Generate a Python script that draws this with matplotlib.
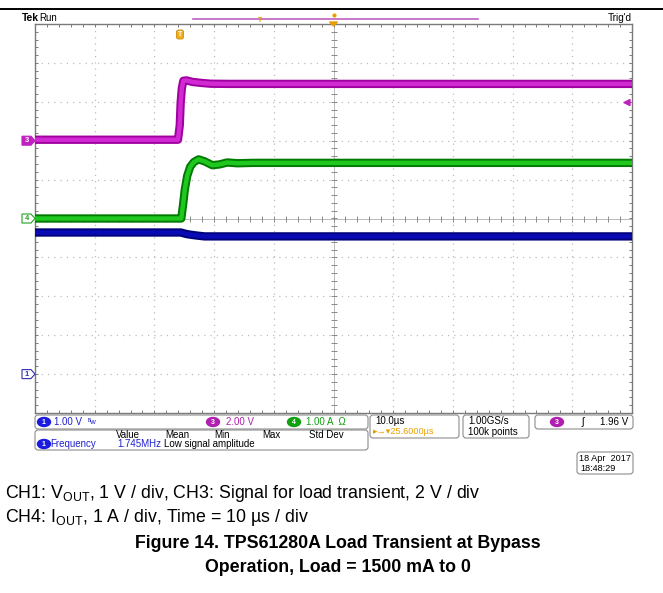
import matplotlib
matplotlib.use('Agg')
import matplotlib.pyplot as plt
import numpy as np
from matplotlib.patches import FancyBboxPatch, Ellipse, Polygon
from matplotlib.ticker import FixedLocator

plt.rcParams['font.family'] = ['Liberation Sans', 'DejaVu Sans']
plt.rcParams['mathtext.fontset'] = 'custom'
plt.rcParams['mathtext.rm'] = 'Liberation Sans'
plt.rcParams['mathtext.it'] = 'Liberation Sans:italic'
plt.rcParams['mathtext.bf'] = 'Liberation Sans:bold'

# ---------------- data ----------------
time_per_div = 10.0          # µs / div
center_after_trigger = 25.6  # µs (horizontal position)
ch1_scale, ch3_scale, ch4_scale = 1.0, 2.0, 1.0        # V/div, V/div, A/div
ch1_offset, ch3_offset, ch4_offset = -4.0, 2.0, 0.0    # ground position, div
ch3_trig_level = 1.96

# CH3: load-transient control signal (V)
ch3_time = [-24.4, -0.45, -0.15, 0.0, 0.2, 0.45, 1.0, 2.0, 3.5, 5.0, 8.0, 12.0, 75.6]
ch3_volt = [0.05, 0.05, 0.8, 1.96, 2.7, 3.08, 3.1, 3.02, 2.97, 2.93, 2.92, 2.92, 2.92]

# CH4: output current (A)
ch4_time = [-24.4, 0.1, 0.4, 0.7, 1.1, 1.6, 2.2, 3.0, 4.0, 5.3, 6.5, 7.8, 9.5, 12.0, 75.6]
ch4_amp = [0.0, 0.0, 0.35, 0.75, 1.1, 1.33, 1.45, 1.52, 1.47, 1.37, 1.39, 1.44, 1.42, 1.43, 1.43]

# CH1: output voltage (V)
ch1_time = [-24.4, 0.0, 0.5, 1.0, 1.8, 2.8, 4.0, 5.0, 75.6]
ch1_volt = [3.64, 3.64, 3.62, 3.60, 3.58, 3.56, 3.54, 3.54, 3.54]

# ---------------- figure ----------------
W, H = 663, 593
fig = plt.figure(figsize=(W / 100, H / 100), dpi=100)
fig.patch.set_facecolor('white')

gl, gt, gr, gb = 35, 24, 632, 413
ax = fig.add_axes([gl / W, 1 - gb / H, (gr - gl) / W, (gb - gt) / H])
t_left = center_after_trigger - 5 * time_per_div
t_right = center_after_trigger + 5 * time_per_div
ax.set_xlim(t_left, t_right)
ax.set_ylim(-5, 5)

# graticule
div_x = np.arange(t_left, t_right + 0.01, time_per_div)
div_y = np.arange(-5, 5.01, 1)
dot_col = '#bcbcbc'
for xv in div_x[1:-1]:
    if abs(xv - center_after_trigger) > 1e-6:
        ax.axvline(xv, color=dot_col, lw=0.9, ls=(0, (1, 4)), zorder=1)
for yv in div_y[1:-1]:
    if abs(yv) > 1e-6:
        ax.axhline(yv, color=dot_col, lw=0.9, ls=(0, (1, 4)), zorder=1)
ax.axhline(0, color='#b0b0b0', lw=0.6, zorder=1)
ax.axvline(center_after_trigger, color='#b0b0b0', lw=0.6, zorder=1)
mx = np.arange(t_left, t_right + 0.01, time_per_div / 5)
my = np.arange(-5, 5.01, 0.2)
ax.plot(mx, np.zeros_like(mx), ls='none', marker='|', ms=4, mew=0.7, color='#8a8a8a', zorder=1)
ax.plot(np.full_like(my, center_after_trigger), my, ls='none', marker='_', ms=4, mew=0.7,
        color='#8a8a8a', zorder=1)

for sp in ax.spines.values():
    sp.set_color('#7a7a7a')
    sp.set_linewidth(1.0)
ax.xaxis.set_major_locator(FixedLocator(mx))
ax.yaxis.set_major_locator(FixedLocator(my))
ax.tick_params(which='both', direction='in', length=2.5, width=0.7, color='#7a7a7a',
               top=True, right=True, labelbottom=False, labelleft=False)

# traces
def to_div(vals, scale, off):
    return off + np.asarray(vals) / scale

traces = [
    (ch3_time, to_div(ch3_volt, ch3_scale, ch3_offset), '#a000a0', '#d22ad2'),
    (ch4_time, to_div(ch4_amp, ch4_scale, ch4_offset), '#007a00', '#1ec81e'),
    (ch1_time, to_div(ch1_volt, ch1_scale, ch1_offset), '#00007a', '#0a0ab4'),
]
for tt, yy, dark, light in traces:
    ax.plot(tt, yy, color=dark, lw=6.0, solid_capstyle='butt', solid_joinstyle='round', zorder=3)
    ax.plot(tt, yy, color=light, lw=3.2, solid_capstyle='butt', solid_joinstyle='round', zorder=4)

# ---------------- overlay (pixel coordinates) ----------------
ov = fig.add_axes([0, 0, 1, 1])
ov.set_xlim(0, W)
ov.set_ylim(H, 0)
ov.axis('off')
ov.patch.set_alpha(0)

def T(x, y, s, color='black', size=7.0, ha='left', weight='normal', **kw):
    ov.text(x, y, s, color=color, fontsize=size, ha=ha, va='center', fontweight=weight, **kw)

def rbox(x0, y0, x1, y1, ec='#8c8c8c'):
    ov.add_patch(FancyBboxPatch((x0, y0), x1 - x0, y1 - y0,
                                boxstyle='round,pad=0,rounding_size=3',
                                fc='none', ec=ec, lw=0.8))

def badge(x, y, n, col):
    ov.add_patch(Ellipse((x, y), 13, 9, color=col))
    T(x, y + 0.3, n, color='white', size=5, ha='center', weight='bold')

# page rule
ov.plot([0, W], [9, 9], color='black', lw=1.4)

# header
T(22, 18, 'Tek', size=7.4, weight='bold')
T(39, 18, 'Run', size=7.0)
T(632, 18, "Trig'd", size=7.2, ha='right')
ov.plot([193, 478], [19, 19], color='#c060c0', lw=1.2)
T(260, 20, 'T', color='#e8a000', size=5, ha='center', weight='bold')
ov.plot([333.5], [15], marker='o', ms=2, color='#e8a000')
ov.add_patch(Polygon([[329.5, 22], [337.5, 22], [333.5, 26]], color='#e8a000'))
# trigger position marker
ov.add_patch(FancyBboxPatch((176.5, 30), 7, 9, boxstyle='round,pad=0,rounding_size=2',
                            fc='#f0b020', ec='#d08a00', lw=0.6))
T(180, 34.8, 'T', color='white', size=5, ha='center', weight='bold')
# trigger level arrow
trig_y = gt + (5 - (ch3_offset + ch3_trig_level / ch3_scale)) * (gb - gt) / 10
ov.add_patch(Polygon([[624, trig_y], [630, trig_y - 3], [630, trig_y + 3]], color='#c020c0'))

# channel ground markers
def gmark(ch_off, label, col, filled):
    y = gt + (5 - ch_off) * (gb - gt) / 10
    fc = col if filled else 'white'
    tc = 'white' if filled else col
    ov.add_patch(Polygon([[22, y - 4.5], [31, y - 4.5], [35, y], [31, y + 4.5], [22, y + 4.5]],
                         fc=fc, ec=col, lw=0.8))
    T(27, y + 0.3, label, color=tc, size=5.5, ha='center', weight='bold')

gmark(ch3_offset, '3', '#c020c0', True)
gmark(ch4_offset, '4', '#20a020', False)
gmark(ch1_offset, '1', '#3030b0', False)

# readout row
rbox(35, 415, 368, 429)
badge(44, 422, '1', '#1a1ae0')
T(54, 422, '1.00 V', color='#2020d0')
T(88, 422, 'ᴮw', color='#2020d0', size=5.5)
badge(213, 422, '3', '#b020b0')
T(226, 422, '2.00 V', color='#b020b0')
badge(294, 422, '4', '#10a010')
T(306, 422, '1.00 A  \u03a9', color='#10a010')

rbox(370, 415, 459, 438)
T(375, 421.5, '10.0\u00b5s')
T(373, 432, '\u25b8\u2192\u25be25.6000\u00b5s', color='#e8a000', size=6.6)
rbox(463, 415, 529, 438)
T(468, 421.5, '1.00GS/s')
T(468, 432, '100k points')
rbox(535, 415, 633, 429)
badge(557, 422, '3', '#b020b0')
T(582, 422, '\u0283', size=7.4)
T(628, 422, '1.96 V', ha='right')

# measurement box
rbox(35, 430, 368, 450)
for lbl, xx in [('Value', 116), ('Mean', 165), ('Min', 214), ('Max', 262), ('Std Dev', 309)]:
    T(xx, 434.5, lbl)
badge(44, 444, '1', '#1a1ae0')
T(50, 444, 'Frequency', color='#2020d0')
T(117, 444, '1.745MHz', color='#2020d0')
T(164, 444, 'Low signal amplitude')

# date box
rbox(577, 452, 633, 474)
T(605, 458.5, '18 Apr  2017', ha='center', size=6.6)
T(580, 468.5, '18:48:29', size=6.6)

# ---------------- caption ----------------
cap = 12.8
T(5, 494, r'CH1: $\mathregular{V_{OUT}}$, 1 V / div, CH3: Signal for load transient, 2 V / div', size=cap)
T(5, 518, r'CH4: $\mathregular{I_{OUT}}$, 1 A / div, Time = 10 ' + '\u00b5s / div', size=cap)
T(338, 543, 'Figure 14. TPS61280A Load Transient at Bypass', size=cap, ha='center', weight='bold')
T(338, 567, 'Operation, Load = 1500 mA to 0', size=cap, ha='center', weight='bold')

fig.savefig('out.png', dpi=100, facecolor='white')
